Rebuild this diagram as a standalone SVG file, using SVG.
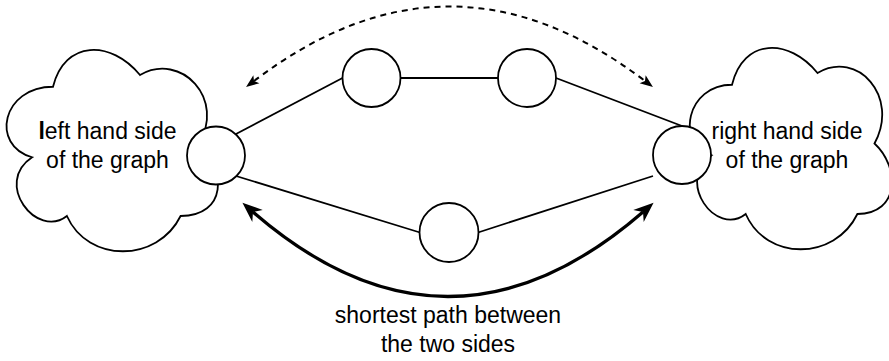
<svg xmlns="http://www.w3.org/2000/svg" width="889" height="361" viewBox="0 0 889 361">
  <style>
    .cloud { fill: #ffffff; stroke: #000000; stroke-width: 1.8; }
    .node { fill: #ffffff; stroke: #000000; stroke-width: 1.8; }
    .edge { fill: none; stroke: #000000; stroke-width: 1.8; }
    .hint { fill: none; stroke: #000000; stroke-width: 2; stroke-dasharray: 6 5; }
    .path { fill: none; stroke: #000000; stroke-width: 3.2; }
    .label { font-family: "Liberation Sans", Arial, Helvetica, sans-serif; font-size: 23px; fill: #000000; text-anchor: middle; }
  </style>
  <defs>
    <!-- notched arrowheads; reference point sits at the notch -->
    <marker id="headSmall" viewBox="-4 -6 15 12" refX="0" refY="0" markerWidth="15" markerHeight="12" markerUnits="userSpaceOnUse" orient="auto-start-reverse">
      <path d="M10,0 L-3,-5 L0,0 L-3,5 Z" fill="#000000"/>
    </marker>
    <marker id="headLarge" viewBox="-7 -9 22 18" refX="0" refY="0" markerWidth="22" markerHeight="18" markerUnits="userSpaceOnUse" orient="auto-start-reverse">
      <path d="M14,0 L-6,-8 L0,0 L-6,8 Z" fill="#000000"/>
    </marker>
  </defs>

  <g id="left-cloud">
    <path class="cloud" d="M53,86.75 C2,86.75 -10,145.5 32.1,157.25 C-7,183.1 36.8,239.5 66.9,216 C87.8,263 157.4,263 180.6,216 C227,216 227,169 198,145.5 C227,98.5 180.6,51.5 140,75 C111,39.75 64.6,39.75 53,86.75 Z"/>
    <text class="label" x="107.5" y="139"><tspan font-weight="bold">l</tspan>eft hand side</text>
    <text class="label" x="107.5" y="168">of the graph</text>
  </g>

  <g id="right-cloud">
    <path class="cloud" d="M732,84.75 C686.4,84.75 675,143.5 711.5,155.25 C675,181.1 716,237.5 745.7,214 C766.2,261 834.6,261 857.4,214 C900,214 900,167 874.5,143.5 C900,96.5 857.4,49.5 817.5,73 C789,37.75 743.4,37.75 732,84.75 Z"/>
    <text class="label" x="787" y="139">right hand side</text>
    <text class="label" x="787" y="168">of the graph</text>
  </g>

  <g id="connectors">
    <line class="edge" x1="236" y1="134" x2="342.5" y2="78"/>
    <line class="edge" x1="400.5" y1="78" x2="498" y2="78"/>
    <line class="edge" x1="556" y1="78" x2="682" y2="126"/>
    <line class="edge" x1="236" y1="176" x2="420" y2="232.5"/>
    <line class="edge" x1="478" y1="232.5" x2="653" y2="176"/>
    <path class="hint" d="M254,81 Q449.5,-68 645,81" marker-start="url(#headSmall)" marker-end="url(#headSmall)"/>
    <path class="path" d="M253,212 Q448,381 643,212" marker-start="url(#headLarge)" marker-end="url(#headLarge)"/>
  </g>

  <g id="node-left"><circle class="node" cx="216" cy="155.5" r="29"/></g>
  <g id="node-top-1"><circle class="node" cx="371.5" cy="78" r="29"/></g>
  <g id="node-top-2"><circle class="node" cx="527" cy="78" r="29"/></g>
  <g id="node-bottom"><circle class="node" cx="449" cy="232.5" r="29.5"/></g>
  <g id="node-right"><circle class="node" cx="682" cy="155" r="29"/></g>

  <g id="path-label">
    <text class="label" x="448" y="323">shortest path between</text>
    <text class="label" x="448" y="352">the two sides</text>
  </g>
</svg>
